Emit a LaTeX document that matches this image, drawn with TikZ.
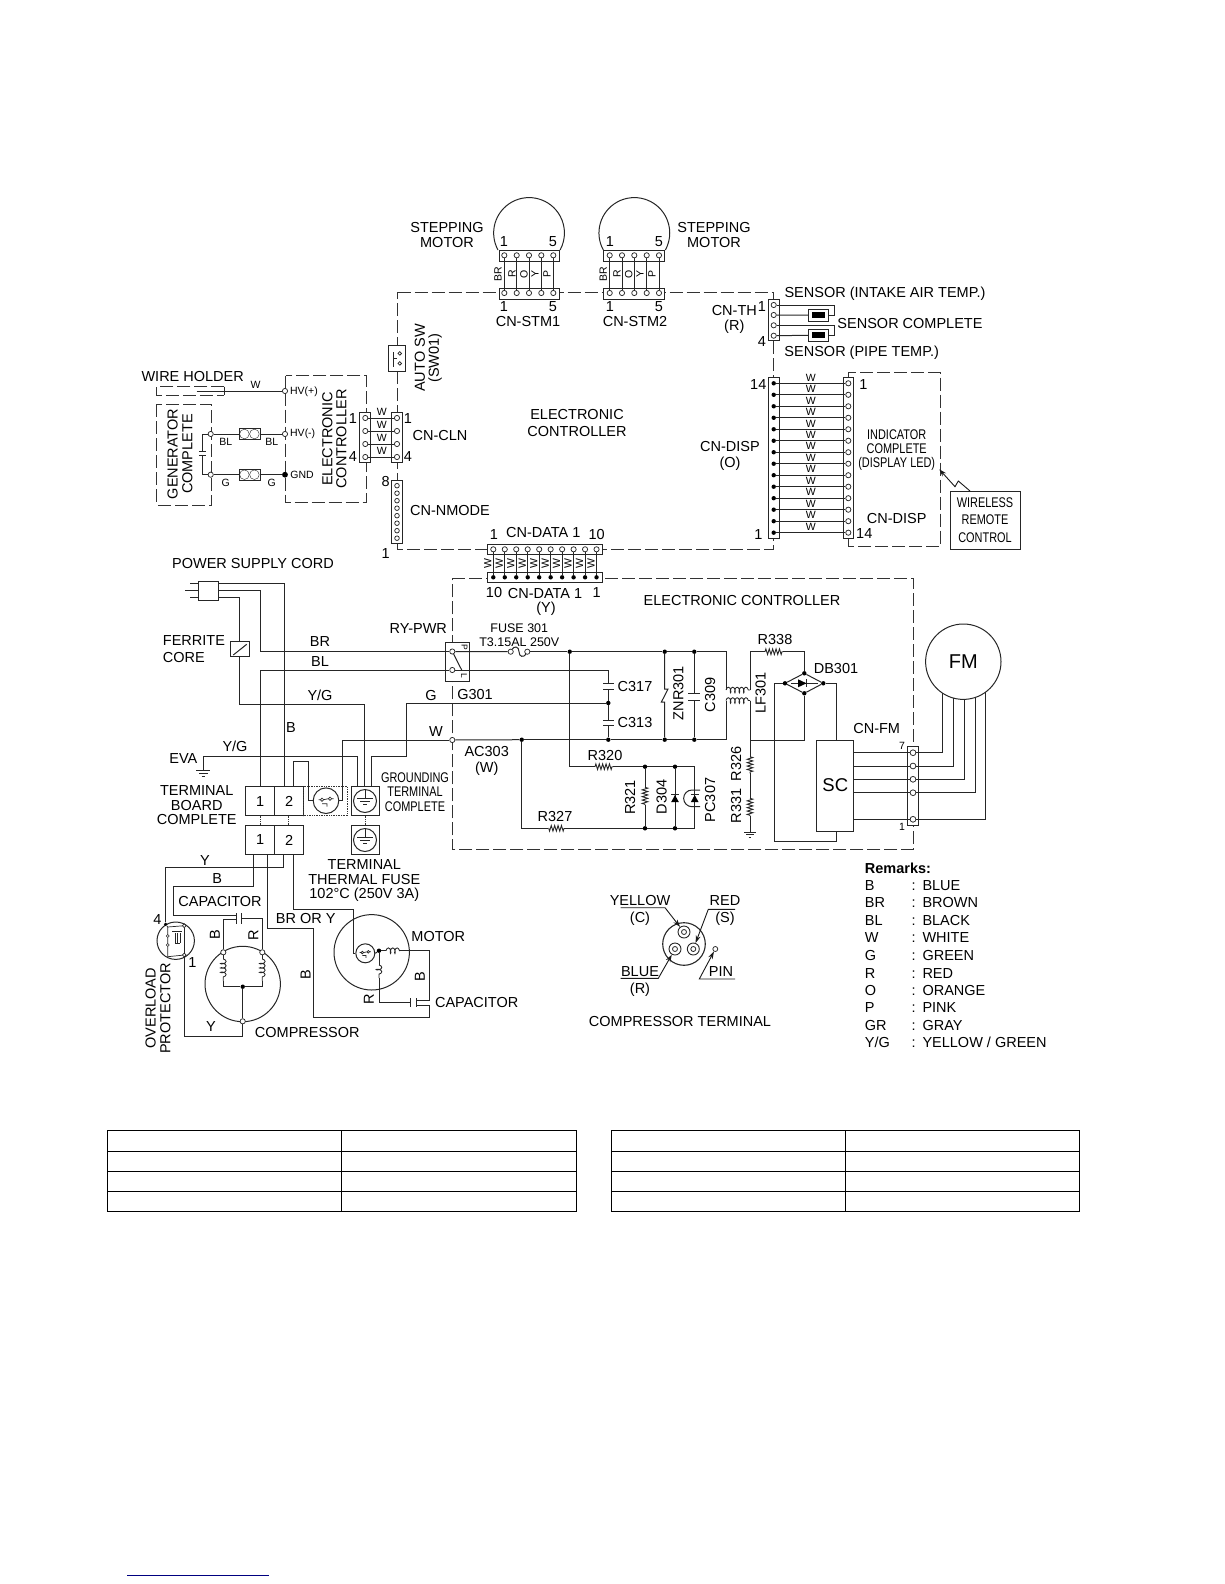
\documentclass[tikz,border=0pt]{standalone}
\usepackage{fontspec}
\setmainfont{Liberation Sans}
\newfontfamily\narrowfont[FakeStretch=0.78]{Liberation Sans}
\usepackage{tikz}
\usetikzlibrary{shapes,decorations.pathmorphing,arrows.meta,positioning}
\definecolor{linkblue}{RGB}{0,0,128}
\tikzstyle{wire}=[line width=1pt, black!85]
\tikzstyle{bound}=[line width=0.9pt, black!80, dash pattern=on 13pt off 4pt]
\tikzstyle{dotbound}=[line width=0.7pt, black!80, densely dotted]
\tikzstyle{cable}=[line width=0.9pt, black!90, -{Stealth[length=7.5pt,width=4.8pt]}]
\tikzstyle{pad}=[circle, draw=black!85, fill=white, line width=0.75pt, inner sep=0pt, minimum size=5.2pt]
\tikzstyle{solder}=[circle, fill=black, inner sep=0pt, minimum size=4.4pt]
\tikzstyle{conn}=[rectangle, draw=black!85, fill=white, line width=1pt, inner sep=0pt]
\tikzstyle{resist}=[line width=0.9pt, black!85, decorate, decoration={zigzag, segment length=3.4pt, amplitude=2.8pt}]
\tikzstyle{winding}=[line width=0.85pt, black!85, decorate, decoration={coil, aspect=0.45, segment length=4.4pt, amplitude=2.8pt}]
\tikzstyle{lab}=[font=\fontsize{14.5}{14.5}\selectfont, inner sep=0pt, align=center]
\tikzstyle{mid}=[font=\fontsize{12.5}{14}\selectfont, inner sep=0pt, align=center]
\tikzstyle{narrow}=[font=\narrowfont\fontsize{14}{14.2}\selectfont, inner sep=0pt, align=center]
\tikzstyle{tag}=[font=\fontsize{10.5}{11}\selectfont, inner sep=0pt]
\newcommand{\gndbars}[2]{\draw[wire, shift={(#1)}, scale=#2] (-7,0) -- (7,0) (-4.2,3) -- (4.2,3) (-1.6,6) -- (1.6,6);}
\newcommand{\plates}[3]{\draw[wire] (#1,#3) -- ++(#2,0);}
\newcommand{\fuseglyph}[2]{\draw[line width=0.7pt, black!85, shift={(#1)}, scale=#2] (-4,-1) circle (1.7) (4,-2) circle (1.7) (-7.5,-1) -- (-5.7,-1) (-2.3,-1) -- (2.3,-2) (-4,3) -- (1,3) -- (1,6) (5.7,-2) -- (7.5,-2);}
\begin{document}
\begin{tikzpicture}[x=1pt, y=-1pt]
    \useasboundingbox (0,0) rectangle (1224,1584);

    % Limites du controleur
    \draw[bound] (397.7,292) -- (773.3,292) -- (773.3,549) -- (397.7,549) -- cycle;
    \draw[bound] (285.7,375.7) rectangle (366,502.7);
    \draw[bound] (156.7,404.3) rectangle (211.7,505);
    \draw[bound] (224.3,386.7) -- (156.7,386.7) -- (156.7,395) -- (224.3,395);
    \draw[bound] (848.3,378) -- (848.3,372.7) -- (940,372.7) -- (940,546.7) -- (848.3,546.7) -- (848.3,538);
    \draw[bound] (452.3,578.3) -- (913.3,578.3) -- (913.3,849.3) -- (452.3,849.3) -- cycle;

    % Moteurs pas a pas
    \draw[wire] (498,250) arc[start angle=151.3, end angle=388.7, radius=35.4];
    \draw[wire] (603.3,250) arc[start angle=151.3, end angle=388.7, radius=35.4];
    \node[conn, minimum width=60pt, minimum height=11pt] (stma) at (529,255.5) {};
    \node[conn, minimum width=60pt, minimum height=11pt] (stmb) at (529,293.5) {};
    \node[conn, minimum width=61pt, minimum height=11pt] (stmc) at (634,255.5) {};
    \node[conn, minimum width=61pt, minimum height=11pt] (stmd) at (634,293.5) {};
    \foreach \i/\x/\xx in {1/504.3/609.7, 2/516.7/622, 3/529/634.3, 4/541.3/646.7, 5/553.3/659} {
        \node[pad] (mota\i) at (\x,255.3) {};
        \node[pad] (motb\i) at (\x,293) {};
        \node[pad] (motc\i) at (\xx,255.3) {};
        \node[pad] (motd\i) at (\xx,293) {};
        \draw[wire] (mota\i) -- (motb\i);
        \draw[wire] (motc\i) -- (motd\i);
    }
    \foreach \t/\a/\b in {BR/498/603.3, R/512/617, O/524/628.7, Y/535/640, P/547/652} {
        \node[tag, rotate=90] (wa\t) at (\a,274) {\t};
        \node[tag, rotate=90] (wb\t) at (\b,274) {\t};
    }
    \node[lab] (lbStepA) at (447,235) {STEPPING\\MOTOR};
    \node[lab] (lbStepB) at (714,235) {STEPPING\\MOTOR};
    \node[lab] (nA1) at (504,242) {1};
    \node[lab] (nA5) at (553,242) {5};
    \node[lab] (nB1) at (610,242) {1};
    \node[lab] (nB5) at (659,242) {5};
    \node[lab] (nC1) at (504,307) {1};
    \node[lab] (nC5) at (553,307) {5};
    \node[lab] (nD1) at (610,307) {1};
    \node[lab] (nD5) at (659,307) {5};
    \node[lab] (lbStmA) at (528,322) {CN-STM1};
    \node[lab] (lbStmB) at (635,322) {CN-STM2};

    % Interrupteur et connecteurs gauche
    \node[conn, minimum width=16.7pt, minimum height=26.3pt] (autosw) at (397.3,358.8) {};
    \node[pad, minimum size=3.6pt] (swa) at (399.8,353.4) {};
    \node[pad, minimum size=3.6pt] (swb) at (399.8,363.4) {};
    \draw[wire] (393.5,352) -- (393.5,367) (393.5,358.5) -- (397,358.5);
    \node[lab, rotate=90] (lbAuto) at (420,358) {AUTO SW};
    \node[lab, rotate=90] (lbSw) at (435,358) {(SW01)};
    \node[lab] (lbCtrlTop) at (577,423) {ELECTRONIC\\[2.5pt]CONTROLLER};

    \node[conn, minimum width=10.7pt, minimum height=50pt] (clna) at (365.3,437.3) {};
    \node[conn, minimum width=11pt, minimum height=50pt] (clnb) at (397.2,437.3) {};
    \foreach \i/\y in {1/418, 2/431, 3/444, 4/457} {
        \node[pad] (clnl\i) at (365.3,\y) {};
        \node[pad] (clnr\i) at (397,\y) {};
        \draw[wire] (clnl\i) -- (clnr\i);
        \node[tag] (clnw\i) at (381.7,\y-5.8) {W};
    }
    \node[lab] (nE1) at (353,419) {1};
    \node[lab] (nE4) at (353,457) {4};
    \node[lab] (nF1) at (408,419) {1};
    \node[lab] (nF4) at (408,457) {4};
    \node[lab] (lbCln) at (440,436) {CN-CLN};
    \node[conn, minimum width=11pt, minimum height=62.6pt] (nmode) at (397.2,512) {};
    \foreach \i in {1,...,8} {
        \pgfmathsetmacro{\yy}{485.7+(\i-1)*7.5}
        \node[pad, minimum size=4.6pt] (nm\i) at (397,\yy) {};
    }
    \node[lab] (nG8) at (385.7,481.7) {8};
    \node[lab] (nG1) at (385.7,554) {1};
    \node[lab] (lbNmode) at (450,511) {CN-NMODE};

    % Generateur
    \node[lab] (lbHolder) at (192.7,376.7) {WIRE HOLDER};
    \node[pad] (hvp) at (285,391) {};
    \node[pad] (hvm) at (285,434) {};
    \node[solder, minimum size=5.8pt] (hvg) at (285,474.7) {};
    \coordinate (holda) at (196.7,391);
    \draw[wire] (holda) -- (hvp);
    \draw[wire] (224.3,386.7) -- (224.3,395);
    \node[tag] (wHold) at (255.7,385) {W};
    \node[tag] (lbHvp) at (304,391.7) {HV(+)};
    \node[tag] (lbHvm) at (302.7,434) {HV(-)};
    \node[tag] (lbGnd) at (302,475) {GND};
    \node[lab, rotate=90] (lbCtrlSide) at (334.5,439) {ELECTRONIC\\[-0.5pt]CONTROLLER};
    \node[lab, rotate=90] (lbGen) at (180,454) {GENERATOR\\[0.3pt]COMPLETE};
    \node[pad] (gena) at (210.7,434) {};
    \node[pad] (genb) at (210.7,474.7) {};
    \node[conn, minimum width=21pt, minimum height=10.6pt] (ckA) at (249.5,434) {};
    \node[conn, minimum width=21pt, minimum height=10.6pt] (ckB) at (249.5,474.7) {};
    \foreach \n/\y in {A/434, B/474.7} {
        \node[circle, draw=black!85, inner sep=0pt, minimum size=9.6pt] (ck\n a) at (244.4,\y) {};
        \node[circle, draw=black!85, inner sep=0pt, minimum size=9.6pt] (ck\n b) at (254.4,\y) {};
    }
    \draw[wire] (gena) -- (ckA);
    \draw[wire] (ckA) -- (hvm);
    \draw[wire] (genb) -- (ckB);
    \draw[wire] (ckB) -- (hvg);
    \coordinate (capa) at (202.3,451.7);
    \coordinate (capb) at (202.3,455.7);
    \draw[wire] (gena) -| (capa);
    \draw[wire] (genb) -| (capb);
    \draw[wire] (198.8,451.7) -- (205.8,451.7) (198.8,455.7) -- (205.8,455.7);
    \node[tag] (wBLa) at (225.7,441.7) {BL};
    \node[tag] (wBLb) at (271.7,441.7) {BL};
    \node[tag] (wGa) at (225.7,483.3) {G};
    \node[tag] (wGb) at (271.7,483.3) {G};

    % Capteurs
    \node[conn, minimum width=11pt, minimum height=41.4pt] (cnth) at (773.8,320) {};
    \foreach \i/\y in {1/305, 2/315, 3/325.3, 4/335.7} {
        \node[pad] (th\i) at (773.7,\y) {};
    }
    \node[conn, minimum width=20.7pt, minimum height=11.7pt] (sena) at (818.6,315.2) {};
    \node[conn, minimum width=20.7pt, minimum height=11.7pt] (senb) at (818.6,335.2) {};
    \node[fill=black, inner sep=0pt, minimum width=12.7pt, minimum height=6pt] (senac) at (sena) {};
    \node[fill=black, inner sep=0pt, minimum width=12.7pt, minimum height=6pt] (senbc) at (senb) {};
    \coordinate (sxa) at (834.3,315.2);
    \coordinate (sxb) at (834.3,335.2);
    \draw[wire] (th1) -| (sxa) -- (sena);
    \draw[wire] (th2) -- (sena);
    \draw[wire] (th3) -| (sxb) -- (senb);
    \draw[wire] (th4) -- (senb);
    \node[lab] (nH1) at (762,306.7) {1};
    \node[lab] (nH4) at (762,341.7) {4};
    \node[lab] (lbTh) at (734.3,319.5) {CN-TH\\(R)};
    \node[lab] (lbSenA) at (885,294) {SENSOR (INTAKE AIR TEMP.)};
    \node[lab] (lbSenB) at (910,323.3) {SENSOR COMPLETE};
    \node[lab] (lbSenC) at (861.7,352.3) {SENSOR (PIPE TEMP.)};

    % Afficheur
    \node[conn, minimum width=11pt, minimum height=160.6pt] (dispa) at (773.8,458) {};
    \node[conn, minimum width=10pt, minimum height=160.6pt] (dispb) at (848.3,458) {};
    \foreach \i in {1,...,14} {
        \pgfmathsetmacro{\yy}{383.3+(\i-1)*11.49}
        \pgfmathsetmacro{\yw}{377.6+(\i-1)*11.45}
        \node[solder] (dsa\i) at (773.7,\yy) {};
        \node[pad] (dsb\i) at (848.3,\yy) {};
        \draw[wire] (dsa\i) -- (dsb\i);
        \node[tag] (dsw\i) at (810.7,\yw) {W};
    }
    \node[lab] (nI14) at (758.3,384.3) {14};
    \node[lab] (nI1) at (758.3,534.3) {1};
    \node[lab] (nJ1) at (863.3,385) {1};
    \node[lab] (nJ14) at (864.3,534) {14};
    \node[lab] (lbDispA) at (730,456) {CN-DISP\\[1.5pt](O)};
    \node[narrow] (lbInd) at (896.7,450) {INDICATOR\\COMPLETE\\(DISPLAY LED)};
    \node[lab] (lbDispB) at (896.7,518.3) {CN-DISP};
    \node[conn, align=center, font=\narrowfont\fontsize{14}{17.8}\selectfont, minimum width=70pt, minimum height=58pt] (remote) at (985,520) {WIRELESS\\REMOTE\\CONTROL};
    \coordinate (zza) at (970,491);
    \coordinate (zzb) at (958.3,481);
    \coordinate (zzc) at (955,486.7);
    \coordinate (zzd) at (939.3,469.3);
    \draw[cable] (zza) -- (zzb) -- (zzc) -- (zzd);

    % CN-DATA
    \node[conn, minimum width=115pt, minimum height=10.4pt] (dataa) at (545.2,549.2) {};
    \node[conn, minimum width=115pt, minimum height=10.4pt] (datab) at (545.2,577.5) {};
    \foreach \i in {1,...,10} {
        \pgfmathsetmacro{\xx}{493.3+(\i-1)*11.47}
        \pgfmathsetmacro{\xw}{487.8+(\i-1)*11.47}
        \node[pad] (dta\i) at (\xx,549.3) {};
        \node[solder] (dtb\i) at (\xx,577.3) {};
        \draw[wire] (dta\i) -- (dtb\i);
        \node[tag, rotate=90] (dtw\i) at (\xw,563.3) {W};
    }
    \node[lab] (nK1) at (494,535) {1};
    \node[lab] (lbDataA) at (543.3,532.3) {CN-DATA 1};
    \node[lab] (nK10) at (596.7,535) {10};
    \node[lab] (nL10) at (494,592.3) {10};
    \node[lab] (lbDataB) at (545,593.3) {CN-DATA 1};
    \node[lab] (nL1) at (596.7,592.3) {1};
    \node[lab] (lbDataY) at (546,608.3) {(Y)};
    \node[lab] (lbCtrlLow) at (742,601) {ELECTRONIC CONTROLLER};

    % Cordon secteur
    \node[lab] (lbCord) at (253,564) {POWER SUPPLY CORD};
    \node[conn, minimum width=20pt, minimum height=19pt] (plug) at (208.3,590.5) {};
    \coordinate (plugb) at (218.3,583.3);
    \coordinate (plugr) at (218.3,590);
    \coordinate (plugg) at (218.3,597.3);
    \draw[wire] (190,583.3) -- (198.3,583.3) (185,590) -- (198.3,590) (190,597.3) -- (198.3,597.3);
    \node[conn, minimum width=19.3pt, minimum height=14.7pt] (ferrite) at (239.9,649.3) {};
    \draw[wire] (233.3,655) -- (246.7,644.3);
    \node[lab, anchor=west, align=left] (lbFerrite) at (162.7,649) {FERRITE\\[2.5pt]CORE};

    % Borniers
    \node[conn, minimum width=29pt, minimum height=29pt, font=\fontsize{14.5}{14}\selectfont] (tba) at (260.2,801.2) {1};
    \node[conn, minimum width=29pt, minimum height=29pt, font=\fontsize{14.5}{14}\selectfont] (tbb) at (289.2,801.2) {2};
    \node[conn, minimum width=29pt, minimum height=29pt, font=\fontsize{14.5}{14}\selectfont] (tbc) at (260.2,840) {1};
    \node[conn, minimum width=29pt, minimum height=29pt, font=\fontsize{14.5}{14}\selectfont] (tbd) at (289.2,840) {2};
    \draw[dotbound] (260.7,815.7) -- (260.7,825.5) (288.3,815.7) -- (288.3,825.5);
    \coordinate (tbtl) at (260.7,786.7);
    \coordinate (tbtb) at (284,786.7);
    \coordinate (tbtj) at (293.3,786.7);
    \node[lab] (lbBoard) at (196.7,805.5) {TERMINAL\\BOARD\\COMPLETE};

    % Fusible thermique et masse
    \draw[dotbound] (303.7,786.7) rectangle (347.3,815.7);
    \node[circle, draw=black!85, line width=1pt, inner sep=0pt, minimum size=25.6pt] (tfuse) at (326,800.7) {};
    \fuseglyph{326,800.7}{1}
    \node[conn, minimum width=28.3pt, minimum height=29pt] (gta) at (365.15,801.2) {};
    \node[conn, minimum width=28.3pt, minimum height=29pt] (gtb) at (365.15,840) {};
    \draw[dotbound] (365,815.7) -- (365,825.5);
    \node[circle, draw=black!85, line width=1pt, inner sep=0pt, minimum size=23pt] (gca) at (365,801) {};
    \node[circle, draw=black!85, line width=1pt, inner sep=0pt, minimum size=23pt] (gcb) at (365,840) {};
    \draw[wire] (gca.north) -- (365,798);
    \draw[wire] (gcb.north) -- (365,837);
    \gndbars{365,798}{1.1}
    \gndbars{365,837}{1.1}
    \coordinate (gtyg) at (364,786.7);
    \coordinate (gtev) at (357.3,786.7);
    \coordinate (gtg) at (371.7,786.7);
    \node[narrow] (lbGrd) at (415,792) {GROUNDING\\TERMINAL\\COMPLETE};
    \node[lab] (lbFuse) at (364.3,881) {TERMINAL\\THERMAL FUSE\\102°C (250V 3A)};

    % Relais
    \node[conn, minimum width=23.6pt, minimum height=39pt] (relay) at (457.5,661.8) {};
    \node[pad] (rya) at (452.3,651.5) {};
    \node[pad] (ryb) at (452.3,670) {};
    \coordinate (rysw) at (461.7,670);
    \draw[wire] (rya) -- (rysw);
    \node[tag, rotate=270, font=\fontsize{8.5}{9}\selectfont] (ryP) at (464.5,647.5) {P};
    \node[tag, rotate=270, font=\fontsize{8.5}{9}\selectfont] (ryL) at (464,676) {L};
    \node[lab] (lbRelay) at (418.3,628.3) {RY-PWR};
    \node[pad] (acw) at (452.3,740) {};

    % Fils d'alimentation
    \coordinate (brk) at (260.7,651.5);
    \coordinate (ygc) at (364,704);
    \coordinate (wbk) at (342.7,740);
    \coordinate (gbk) at (406.7,756);
    \coordinate (evag) at (203.3,770);
    \coordinate (evak) at (357.3,756.7);
    \coordinate (tjb) at (308.3,761.7);
    \draw[wire] (plugb) -| (tbtb);
    \draw[wire] (plugr) -| (brk) -- (rya);
    \draw[wire] (tbtl) |- (ryb);
    \draw[wire] (plugg) -| (ferrite.north);
    \draw[wire] (ferrite.south) |- (ygc) -- (gtyg);
    \draw[wire] (acw) -- (wbk) |- (tfuse.east);
    \draw[wire] (gtg) |- (gbk);
    \draw[wire] (evag) |- (evak) -- (gtev);
    \draw[wire] (tbtj) |- (tjb) |- (tfuse.west);
    \gndbars{203.3,770}{1}
    \node[lab] (wBR) at (320,641.7) {BR};
    \node[lab] (wBL) at (320,661.7) {BL};
    \node[lab] (wYGa) at (320,695.7) {Y/G};
    \node[lab] (wGc) at (431,695.7) {G};
    \node[lab] (lbG301) at (475,695) {G301};
    \node[lab] (wB) at (291,727.3) {B};
    \node[lab] (wWa) at (436,731.7) {W};
    \node[lab] (wYGb) at (235,746.7) {Y/G};
    \node[lab] (lbEva) at (183.3,759) {EVA};
    \node[lab] (lbAc) at (486.7,761) {AC303\\[1pt](W)};

    % Filtre d'entree
    \node[pad] (fusa) at (510.7,651.7) {};
    \node[pad] (fusb) at (527.3,651.7) {};
    \draw[wire] (rya) -- (fusa);
    \draw[wire] (fusa) .. controls (514,646) and (519,646) .. (519,651.7) .. controls (519,657.4) and (524,657.4) .. (fusb);
    \node[mid] (lbFuseA) at (519.3,635) {FUSE 301\\T3.15AL 250V};
    \node[solder] (ja) at (569.7,651.7) {};
    \node[solder] (jb) at (664.7,651.7) {};
    \node[solder] (jc) at (694.3,651.7) {};
    \node[solder] (jd) at (608.3,703) {};
    \node[solder] (je) at (608.3,739.7) {};
    \node[solder] (jf) at (521.7,739.7) {};
    \node[solder] (jg) at (664.7,739.7) {};
    \node[solder] (jh) at (694.3,739.7) {};
    \coordinate (lfa) at (726,651.7);
    \coordinate (lfb) at (726,690);
    \coordinate (lfc) at (750,690);
    \coordinate (lfd) at (726,700.5);
    \coordinate (lfe) at (750,700.5);
    \coordinate (lff) at (726,739.7);
    \draw[wire] (fusb) -- (ja);
    \draw[wire] (ja) -- (jb);
    \draw[wire] (jb) -- (jc);
    \draw[wire] (jc) -- (lfa) -- (lfb);
    \draw[winding] (lfb) -- (lfc);
    \draw[winding] (lfd) -- (lfe);
    \draw[wire] (lfd) -- (lff);
    \draw[wire] (acw) -- (jf);
    \draw[wire] (jf) -- (je);
    \draw[wire] (je) -- (jg);
    \draw[wire] (jg) -- (jh);
    \draw[wire] (jh) -- (lff);
    % C317 C313
    \coordinate (cka) at (608.3,683.3);
    \coordinate (ckb) at (608.3,689);
    \coordinate (ckc) at (608.3,720);
    \coordinate (ckd) at (608.3,725);
    \draw[wire] (ryb) -| (cka);
    \draw[wire] (ckb) -- (jd);
    \draw[wire] (jd) -- (ckc);
    \draw[wire] (ckd) -- (je);
    \draw[wire] (gbk) |- (jd);
    \foreach \y in {683.3, 689, 720, 725} {\plates{603}{11}{\y}}
    \node[lab] (lbC317) at (635,686.7) {C317};
    \node[lab] (lbC313) at (635,722.7) {C313};
    % ZNR301 C309
    \coordinate (za) at (664.7,689);
    \coordinate (zb) at (664.7,702);
    \draw[wire] (jb) -- (za) -- (668,689) -- (661.4,702) -- (zb) -- (jg);
    \node[lab, rotate=90] (lbZnr) at (678.3,693.3) {ZNR301};
    \coordinate (cna) at (694.3,693.3);
    \coordinate (cnb) at (694.3,700);
    \draw[wire] (jc) -- (cna);
    \draw[wire] (cnb) -- (jh);
    \foreach \y in {693.3, 700} {\plates{688.3}{11.7}{\y}}
    \node[lab, rotate=90] (lbC309) at (710,695) {C309};
    \node[lab, rotate=90] (lbLf) at (760.7,693.3) {LF301};

    % R320 R327 etc
    \coordinate (raa) at (595,766.7);
    \coordinate (rab) at (613.3,766.7);
    \coordinate (rca) at (548.3,828.3);
    \coordinate (rcb) at (564,828.3);
    \coordinate (rea) at (645,787.3);
    \coordinate (reb) at (645,805);
    \coordinate (pca) at (694.7,766.7);
    \coordinate (pcb) at (694.7,828.3);
    \node[solder] (jk) at (645,766.7) {};
    \node[solder] (jl) at (675,766.7) {};
    \node[solder] (jm) at (645,828.3) {};
    \node[solder] (jn) at (675,828.3) {};
    \draw[wire] (ja) |- (raa);
    \draw[resist] (raa) -- (rab);
    \draw[wire] (rab) -- (jk);
    \draw[wire] (jk) -- (jl);
    \draw[wire] (jl) -- (pca) -- (pcb) -- (jn);
    \draw[wire] (jn) -- (jm);
    \draw[wire] (jm) -- (rcb);
    \draw[resist] (rcb) -- (rca);
    \draw[wire] (rca) -| (jf);
    \draw[wire] (jk) -- (rea);
    \draw[resist] (rea) -- (reb);
    \draw[wire] (reb) -- (jm);
    \draw[wire] (jl) -- (jn);
    \fill[black] (671.2,802) -- (678.8,802) -- (675,795) -- cycle;
    \draw[wire] (671,794.7) -- (679,794.7);
    \fill[black] (690.9,802) -- (698.5,802) -- (694.7,795) -- cycle;
    \draw[wire] (690.7,794.7) -- (698.7,794.7);
    \draw[wire] (700,790) -- (692,790) arc[start angle=270, end angle=90, radius=8.35] -- (700,806.7);
    \node[lab] (lbR320) at (605,755) {R320};
    \node[lab] (lbR327) at (555,816) {R327};
    \node[lab, rotate=90] (lbR321) at (630,797.3) {R321};
    \node[lab, rotate=90] (lbD304) at (661.7,796.7) {D304};
    \node[lab, rotate=90] (lbPc) at (710,800) {PC307};

    % Pont et moteur ventilateur
    \node[solder] (brt) at (804.3,673.3) {};
    \node[solder] (brb) at (804.3,693.3) {};
    \node[solder] (brl) at (785,683.3) {};
    \node[solder] (brr) at (823.3,683.3) {};
    \draw[wire] (brt) -- (brr) -- (brb) -- (brl) -- (brt);
    \draw[wire] (791,683.3) -- (818,683.3) (806.7,679.3) -- (806.7,687.3);
    \fill[black] (798,679.3) -- (798,687.3) -- (806.5,683.3) -- cycle;
    \coordinate (rha) at (765,651.7);
    \coordinate (rhb) at (783.3,651.7);
    \coordinate (rja) at (750,756.7);
    \coordinate (rjb) at (750,773.3);
    \coordinate (rka) at (750,798.3);
    \coordinate (rkb) at (750,816);
    \coordinate (lfg) at (750,740);
    \coordinate (gnb) at (750,832);
    \draw[wire] (lfc) |- (rha);
    \draw[resist] (rha) -- (rhb);
    \draw[wire] (rhb) -| (brt);
    \draw[wire] (lfe) -- (rja);
    \draw[resist] (rja) -- (rjb);
    \draw[wire] (rjb) -- (rka);
    \draw[resist] (rka) -- (rkb);
    \draw[wire] (rkb) -- (gnb);
    \gndbars{750,832}{0.85}
    \draw[wire] (lfg) -| (brb);
    \node[lab] (lbR338) at (775,639.3) {R338};
    \node[lab] (lbDb) at (836,668.3) {DB301};
    \node[lab, rotate=90] (lbR326) at (736,764) {R326};
    \node[lab, rotate=90] (lbR331) at (736,806) {R331};
    \node[conn, minimum width=37.3pt, minimum height=91pt, font=\fontsize{18.5}{18.5}\selectfont] (sc) at (835.3,785.5) {SC};
    \coordinate (scta) at (836.7,740);
    \coordinate (sctb) at (836.7,831);
    \coordinate (bla) at (774,683.3);
    \coordinate (blb) at (836.7,841);
    \draw[wire] (brr) -| (scta);
    \draw[wire] (brl) -- (bla) |- (blb) -- (sctb);
    \node[conn, minimum width=10.3pt, minimum height=79pt] (cnfm) at (913.1,786.2) {};
    \node[circle, draw=black!85, line width=1pt, inner sep=0pt, minimum size=75.4pt, font=\fontsize{20}{20}\selectfont] (fm) at (963.3,661.7) {FM};
    \foreach \i/\y/\x/\yc in {1/752.7/942.3/693, 2/766/953.3/698, 3/779.3/964.3/699.4, 4/792.7/975/697.5, 5/819.3/985.7/692} {
        \node[pad, minimum size=5.8pt] (fmp\i) at (913,\y) {};
        \coordinate (fmt\i) at (\x,\yc);
        \draw[wire] (sc.east |- fmp\i) -- (fmp\i);
        \draw[wire] (fmp\i) -| (fmt\i);
    }
    \node[lab] (lbFm) at (876.7,728.3) {CN-FM};
    \node[tag] (nM7) at (902,745.7) {7};
    \node[tag] (nM1) at (902,826.7) {1};

    % Compresseur
    \node[circle, draw=black!85, line width=1pt, inner sep=0pt, minimum size=75.4pt] (comp) at (242.7,984) {};
    \node[pad] (cps) at (223.3,952.3) {};
    \node[pad] (cpr) at (262.3,952.3) {};
    \node[pad] (cpc) at (242.7,1021.3) {};
    \node[solder] (cpj) at (242.7,986.7) {};
    \coordinate (csa) at (223.3,959);
    \coordinate (csb) at (223.3,981);
    \coordinate (csc) at (223.3,986.7);
    \coordinate (cra) at (262.3,959);
    \coordinate (crb) at (262.3,981);
    \coordinate (crc) at (262.3,986.7);
    \draw[wire] (cps) -- (csa);
    \draw[winding] (csa) -- (csb);
    \draw[wire] (csb) -- (csc) -- (cpj);
    \draw[wire] (cpr) -- (cra);
    \draw[winding] (cra) -- (crb);
    \draw[wire] (crb) -- (crc) -- (cpj);
    \draw[wire] (cpj) -- (cpc);

    % Protecteur
    \node[circle, draw=black!85, line width=1pt, inner sep=0pt, minimum size=37.4pt] (olp) at (175.7,940.7) {};
    \node[solder, minimum size=3.6pt] (ola) at (165.7,924.3) {};
    \node[pad, minimum size=3.8pt] (olb) at (184.3,925.7) {};
    \node[pad, minimum size=3.8pt] (olc) at (184.3,955) {};
    \draw[line width=0.7pt, black!85] (ola) -- (167.7,927) -- (olb);
    \draw[line width=0.7pt, black!85] (167.7,927) -- (167.7,934.5) (167.7,937.5) -- (167.7,943.5) (167.7,946.5) -- (167.7,956.7) -- (olc);
    \draw[line width=0.7pt, black!85] (172,931) -- (182,931) (175.3,933) -- (175.3,943) (177.7,933) -- (177.7,943) (180,933) -- (180,943) (175.3,943) -- (180,943);
    \draw[line width=0.6pt, black!85] (167.7,936) circle (1.5) (167.7,945) circle (1.5);
    \draw[wire] (olb) -- (olc);

    % Fils du bas
    \coordinate (dby) at (283.3,854.3);
    \coordinate (dbb) at (253.7,854.3);
    \coordinate (dbr) at (267.7,854.3);
    \coordinate (dbm) at (293.7,854.3);
    \coordinate (yb) at (165.7,867.7);
    \coordinate (bb) at (173.3,886.7);
    \coordinate (bc) at (236,915.7);
    \coordinate (cpa) at (236,919.3);
    \coordinate (cpb) at (241.7,918.3);
    \coordinate (brc) at (313.3,928.3);
    \coordinate (brd) at (429,1017.7);
    \coordinate (mca) at (410.3,1002.7);
    \coordinate (mcb) at (416.7,1000);
    \coordinate (mcc) at (416.7,1005);
    \coordinate (mcd) at (429,1000);
    \coordinate (mce) at (429,1005);
    \coordinate (mka) at (353.7,909.3);
    \coordinate (olk) at (184.3,1036);
    \draw[wire] (dby) |- (yb) -- (ola);
    \draw[wire] (dbb) |- (bb) |- (bc);
    \draw[wire] (cps) |- (cpa);
    \draw[wire] (cpr) |- (cpb);
    \draw[wire] (236,913.3) -- (236,924) (241.7,913.3) -- (241.7,924);
    \draw[wire] (cpc) |- (olk) -- (olc);
    \draw[wire] (dbr) |- (brc) |- (brd) -- (mce) -- (mcc);
    \node[lab] (wYc) at (205,860.7) {Y};
    \node[lab] (wBb) at (217.3,878.3) {B};
    \node[lab] (lbCapA) at (220,901) {CAPACITOR};
    \node[lab, rotate=90] (wBc) at (215,935) {B};
    \node[lab, rotate=90] (wRa) at (253.3,935) {R};
    \node[lab] (wYd) at (211,1026) {Y};
    \node[lab] (lbComp) at (307.3,1032.3) {COMPRESSOR};
    \node[lab] (nN4) at (157.3,919.3) {4};
    \node[lab] (nN1) at (192.3,962.7) {1};
    \node[lab, rotate=90] (lbOverload) at (158,1008.3) {OVERLOAD\\[0.3pt]PROTECTOR};
    \node[lab] (wBRY) at (305.7,918.3) {BR OR Y};
    \node[lab, rotate=90] (wBd) at (305.7,975) {B};

    % Moteur
    \node[circle, draw=black!85, line width=1pt, inner sep=0pt, minimum size=75.4pt] (motor) at (371.7,952.3) {};
    \node[circle, draw=black!85, line width=1pt, inner sep=0pt, minimum size=19pt] (tfm) at (365.3,953.3) {};
    \fuseglyph{365.3,953.3}{0.75}
    \node[solder] (mj) at (379,950.7) {};
    \coordinate (mha) at (386,950.7);
    \coordinate (mhb) at (400,950.7);
    \coordinate (mva) at (379,965);
    \coordinate (mvb) at (379,978);
    \coordinate (mvc) at (379,1002.7);
    \draw[wire] (dbm) |- (mka) |- (tfm.west);
    \draw[wire] (tfm.east) -- (mj);
    \draw[wire] (mj) -- (mha);
    \draw[winding] (mha) -- (mhb);
    \draw[wire] (mhb) -| (mcd) -- (mcb);
    \draw[wire] (mj) -- (mva);
    \draw[winding] (mva) -- (mvb);
    \draw[wire] (mvb) -- (mvc) -- (mca);
    \draw[wire] (410.3,998) -- (410.3,1007.3) (416.7,998) -- (416.7,1007.3);
    \node[lab] (lbMotor) at (438.3,936.7) {MOTOR};
    \node[lab] (lbCapB) at (476.7,1002.3) {CAPACITOR};
    \node[lab, rotate=90] (wRb) at (369,999) {R};
    \node[lab, rotate=90] (wBe) at (420,976.7) {B};

    % Bornes du compresseur
    \node[circle, draw=black!85, line width=1.1pt, inner sep=0pt, minimum size=42.6pt] (ctb) at (684,944) {};
    \foreach \n/\x/\y in {c/684/932, r/675/949, s/693.3/949} {
        \node[circle, draw=black!85, line width=0.9pt, inner sep=0pt, minimum size=12pt] (ct\n) at (\x,\y) {};
        \node[circle, draw=black!85, line width=0.8pt, inner sep=0pt, minimum size=5pt] (cti\n) at (\x,\y) {};
    }
    \node[pad, minimum size=5pt] (ctp) at (715.3,949) {};
    \coordinate (ula) at (620.7,907.7);
    \coordinate (ulb) at (665,907.7);
    \coordinate (ulc) at (735,909.3);
    \coordinate (uld) at (708.3,909.3);
    \coordinate (ule) at (620.7,978.3);
    \coordinate (ulf) at (658.3,978.3);
    \coordinate (ulg) at (735,979);
    \coordinate (ulh) at (699.3,979);
    \draw[cable] (ula) -- (ulb) -- (ctc);
    \draw[cable] (ulc) -- (uld) -- (cts);
    \draw[cable] (ule) -- (ulf) -- (ctr);
    \draw[cable] (ulg) -- (ulh) -- (ctp);
    \node[lab] (lbYel) at (640,900.7) {YELLOW};
    \node[lab] (lbC) at (640,919) {(C)};
    \node[lab] (lbRed) at (725,901) {RED};
    \node[lab] (lbS) at (725,919) {(S)};
    \node[lab] (lbBlue) at (640,971.7) {BLUE};
    \node[lab] (lbRr) at (640,990) {(R)};
    \node[lab] (lbPin) at (721,971.7) {PIN};
    \node[lab] (lbCt) at (680,1021.3) {COMPRESSOR TERMINAL};

    % Remarques
    \node[lab, font=\fontsize{14.5}{14}\selectfont\bfseries, anchor=base west] (rmk) at (864.7,873.3) {Remarks:};
    \foreach \i/\k/\v/\y in {1/B/BLUE/890, 2/BR/BROWN/907.7, 3/BL/BLACK/925, 4/W/WHITE/942.7, 5/G/GREEN/960, 6/R/RED/978, 7/O/ORANGE/995.3, 8/P/PINK/1012.7, 9/GR/GRAY/1030, 10/{Y/G}/{YELLOW / GREEN}/1047.3} {
        \node[lab, anchor=base west] (rk\i) at (864.7,\y) {\k};
        \node[lab, anchor=base west] (rc\i) at (911.5,\y) {:};
        \node[lab, anchor=base west] (rv\i) at (922.3,\y) {\v};
    }

    % Tableaux vides
    \foreach \a/\b/\c in {107.3/341.3/576.7, 611/845.3/1079.6} {
        \draw[line width=1pt] (\a,1130.3) rectangle (\c,1211.3);
        \draw[line width=0.7pt] (\b,1130.3) -- (\b,1211.3);
        \foreach \y in {1151.3, 1171.3, 1191.3} {
            \draw[line width=1pt] (\a,\y) -- (\c,\y);
        }
    }
    \draw[linkblue, line width=1.2pt] (127.3,1575.3) -- (269,1575.3);
\end{tikzpicture}
\end{document}
